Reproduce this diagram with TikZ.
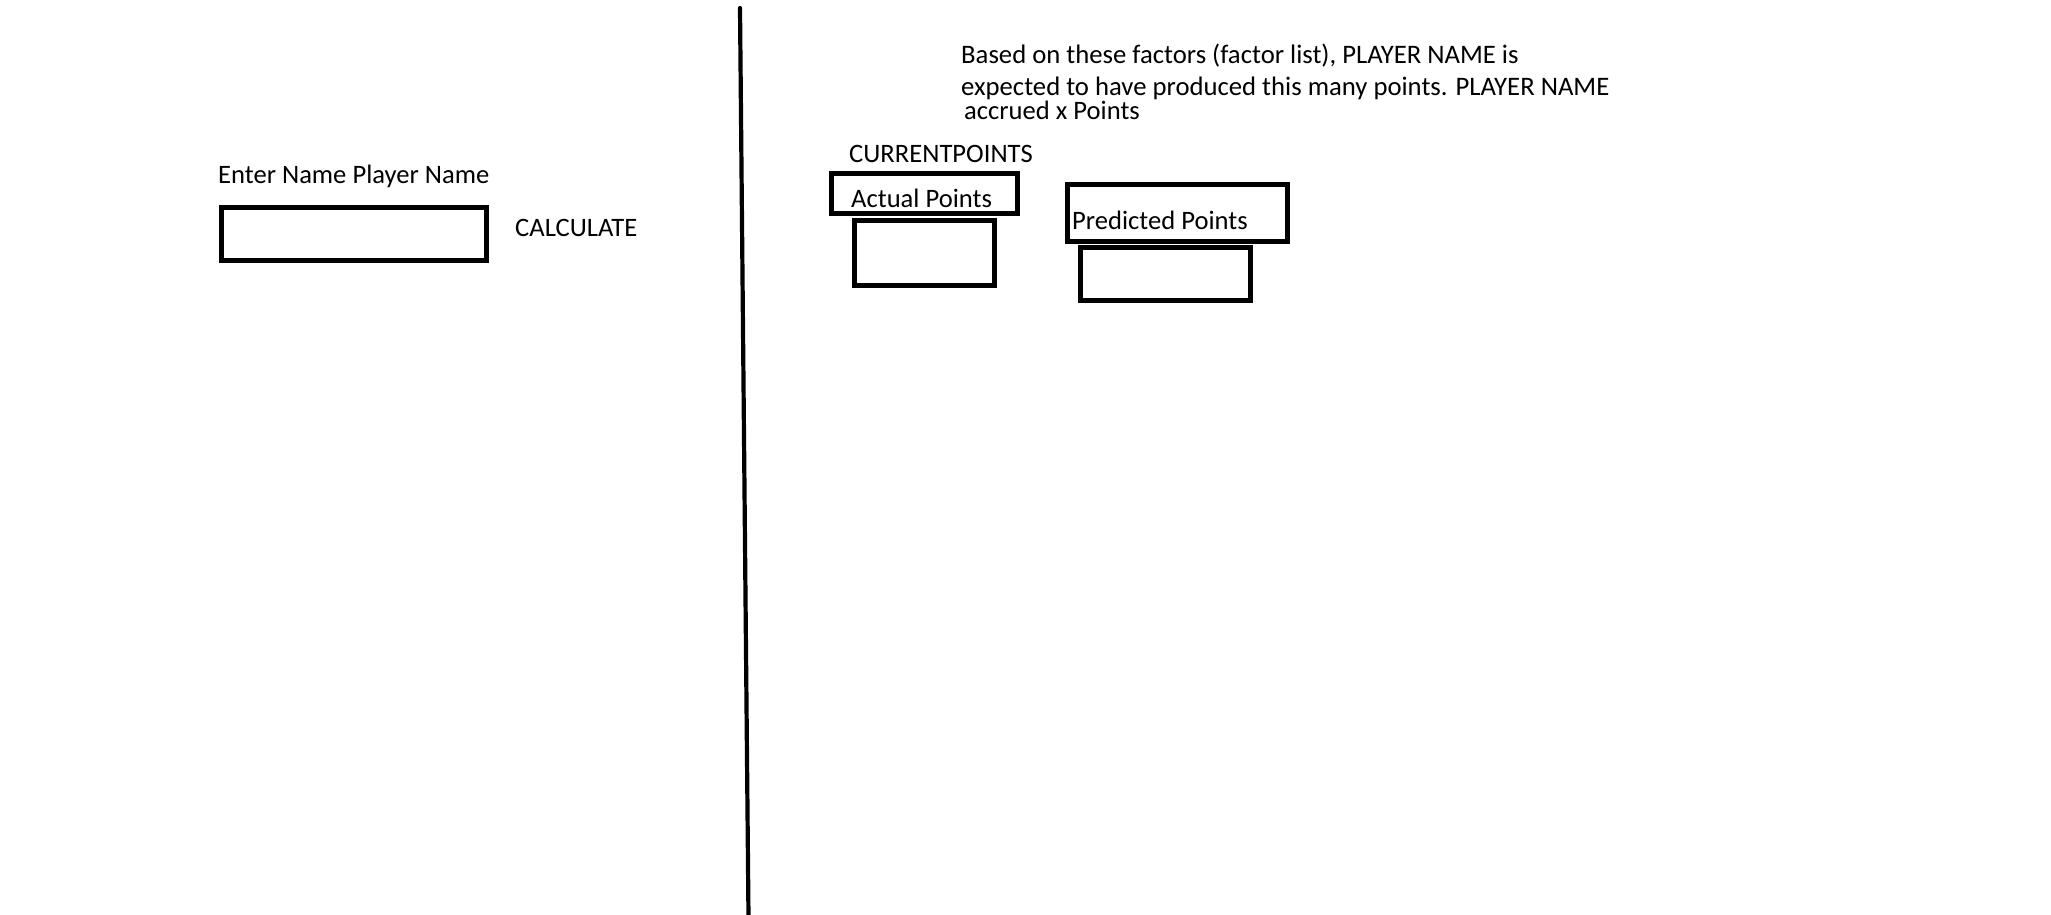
\documentclass[tikz,border=0pt]{standalone}
\usepackage{fontspec}
\setmainfont{Carlito}
\tikzset{
  lbl/.style={inner sep=0pt, anchor=base west, font=\fontsize{26.6}{31}\selectfont},
  lblbig/.style={inner sep=0pt, anchor=base west, font=\fontsize{26.7}{31}\selectfont},
  field/.style={draw=black, line width=5pt, fill=none},
  divider/.style={draw=black, line width=4.2pt, line cap=round}
}
\begin{document}
\begin{tikzpicture}[x=1pt,y=-1pt]
\useasboundingbox (0,0) rectangle (2051,915);
% divider
\coordinate (dtop) at (740,8);
\coordinate (dbot) at (748.5,918);
\draw[divider] (dtop) -- (dbot);
% left panel
\node[lbl] (enter) at (218,183) {Enter Name Player Name};
\draw[field] (221,207.5) rectangle (486,260);
\node[lbl] (calc) at (515,236) {CALCULATE};
% right panel text
\node[lblbig] (l1) at (961,64) {Based on these factors (factor list), PLAYER NAME is};
\node[lblbig] (l2) at (961,96) {expected to have produced this many points. PLAYER NAME};
\node[lbl] (l3) at (964,120) {accrued x Points};
\node[lbl] (cur) at (849,162) {CURRENTPOINTS};
% actual
\draw[field] (831,173.5) rectangle (1017,213.5);
\node[lbl] (act) at (851,207) {Actual Points};
\draw[field] (854,220) rectangle (994,285);
% predicted
\draw[field] (1067.5,184.5) rectangle (1287.5,241.5);
\node[lbl] (pred) at (1072,229) {Predicted Points};
\draw[field] (1080.5,247.5) rectangle (1250.5,300.5);
\end{tikzpicture}
\end{document}
